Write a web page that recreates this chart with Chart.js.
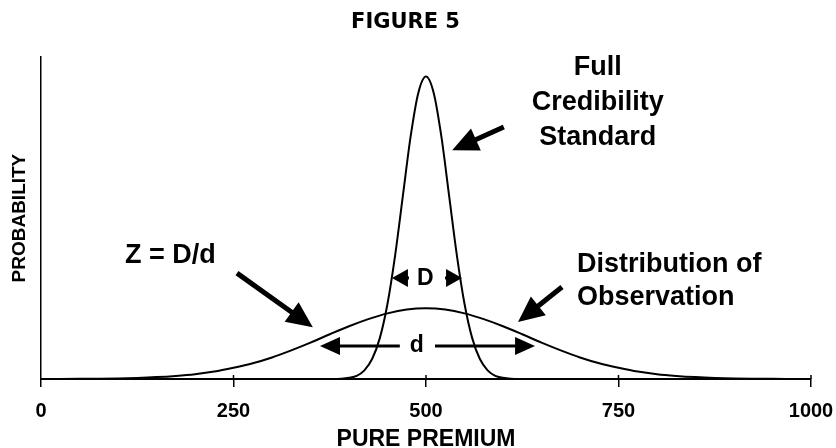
<!DOCTYPE html>
<html>
<head>
<meta charset="utf-8">
<script src="https://cdn.jsdelivr.net/npm/chart.js@4/dist/chart.umd.min.js"></script>
<style>
html,body{margin:0;padding:0;background:#fff;}
#c{display:block;}
</style>
</head>
<body>
<canvas id="c" width="836" height="448"></canvas>
<script>
// ---- data ----
const chartTitle = 'FIGURE 5';
const xTitle = 'PURE PREMIUM';
const yTitle = 'PROBABILITY';
const xTicks = [0, 250, 500, 750, 1000];

// Distribution of Observation (wide curve)
const wideX = [0,25,50,75,100,125,150,175,200,225,250,275,300,325,350,375,400,425,450,475,500,
               525,550,575,600,625,650,675,700,725,750,775,800,825,850,875,900,925,950,975,1000];
const wideY = [0.0,0.02,0.05,0.1,0.19,0.34,0.59,0.97,1.5,2.3,3.5,4.9,6.7,8.9,11.3,13.9,16.4,18.6,20.4,21.6,22.0,
               21.6,20.4,18.6,16.4,13.9,11.3,8.9,6.7,4.9,3.5,2.3,1.5,0.97,0.59,0.34,0.19,0.1,0.05,0.02,0.0];

// Full Credibility Standard (narrow curve)
const narrowX = [370,380,390,400,410,420,430,440,450,460,470,480,490,500,
                 510,520,530,540,550,560,570,580,590,600,610,620,630];
const narrowY = [0,0,0.1,0.4,1.0,2.7,6.2,12.7,23.4,38.6,57.0,75.3,88.9,94.0,
                 88.9,75.3,57.0,38.6,23.4,12.7,6.2,2.7,1.0,0.4,0.1,0,0];

// annotation labels (positions in data units)
const labels = [
  {text:'Full', x:723, y:94.4, align:'center'},
  {text:'Credibility', x:723, y:83.5, align:'center'},
  {text:'Standard', x:723, y:72.7, align:'center'},
  {text:'Z = D/d', x:109, y:36.0, align:'left'},
  {text:'Distribution of', x:696, y:33.2, align:'left'},
  {text:'Observation', x:696, y:23.0, align:'left'}
];
// arrows: tail -> tip, in data units
const bigArrows = [
  {x1:601, y1:78.3, x2:534, y2:71.1},
  {x1:254.5, y1:32.9, x2:353, y2:16.1},
  {x1:676.6, y1:28.6, x2:619.5, y2:17.7}
];
const dMarker = {text:'D', x:499, y:31.4, left:455.8, right:546.8};
const dSmall = {text:'d', x:488, y:10.25, left:362.3, leftEnd:466, rightStart:511.7, right:641.6};

const FONT = "'Liberation Sans', Arial, sans-serif";

function toPix(chart, x, y){
  return [chart.scales.x.getPixelForValue(x), chart.scales.y.getPixelForValue(y)];
}
function arrow(ctx, x1, y1, x2, y2, lw, hl, hw){
  const a = Math.atan2(y2-y1, x2-x1);
  const bx = x2 - hl*Math.cos(a), by = y2 - hl*Math.sin(a);
  ctx.lineWidth = lw;
  ctx.lineCap = 'butt';
  if (Math.hypot(bx-x1, by-y1) > 0.5 && ((bx-x1)*(x2-x1)+(by-y1)*(y2-y1)) > 0) {
    ctx.beginPath(); ctx.moveTo(x1,y1); ctx.lineTo(bx+Math.cos(a), by+Math.sin(a)); ctx.stroke();
  }
  ctx.beginPath();
  ctx.moveTo(x2,y2);
  ctx.lineTo(bx + hw*Math.sin(a), by - hw*Math.cos(a));
  ctx.lineTo(bx - hw*Math.sin(a), by + hw*Math.cos(a));
  ctx.closePath();
  ctx.fill();
}

const annot = {
  id:'annot',
  afterDraw(chart){
    const ctx = chart.ctx;
    ctx.save();
    ctx.fillStyle = '#000'; ctx.strokeStyle = '#000';
    // upward part of x tick marks
    const xs = chart.scales.x, ys = chart.scales.y;
    const by = ys.getPixelForValue(0);
    ctx.lineWidth = 1.5;
    xTicks.forEach(t => { if (t>0){ const px = xs.getPixelForValue(t); ctx.beginPath(); ctx.moveTo(px, by-4); ctx.lineTo(px, by); ctx.stroke(); }});
    // labels
    ctx.font = "bold 27px " + FONT;
    ctx.textBaseline = 'alphabetic';
    labels.forEach(l => {
      const [px, py] = toPix(chart, l.x, l.y);
      ctx.textAlign = l.align;
      ctx.fillText(l.text, px, py);
    });
    // big arrows
    bigArrows.forEach(a => {
      const [x1,y1] = toPix(chart, a.x1, a.y1);
      const [x2,y2] = toPix(chart, a.x2, a.y2);
      arrow(ctx, x1,y1,x2,y2, 5, 26, 12);
    });
    // D marker
    {
      const [cx, cy] = toPix(chart, dMarker.x, dMarker.y);
      const [lx] = toPix(chart, dMarker.left, 0);
      const [rx] = toPix(chart, dMarker.right, 0);
      ctx.font = "bold 23px " + FONT;
      ctx.textAlign = 'center'; ctx.textBaseline = 'middle';
      ctx.fillText(dMarker.text, cx, cy+1);
      arrow(ctx, lx+17, cy, lx, cy, 3, 16, 9);
      arrow(ctx, rx-17, cy, rx, cy, 3, 16, 9);
    }
    // d marker
    {
      const [cx, cy] = toPix(chart, dSmall.x, dSmall.y);
      const [lx] = toPix(chart, dSmall.left, 0);
      const [lex] = toPix(chart, dSmall.leftEnd, 0);
      const [rsx] = toPix(chart, dSmall.rightStart, 0);
      const [rx] = toPix(chart, dSmall.right, 0);
      ctx.font = "bold 23px " + FONT;
      ctx.textAlign = 'center'; ctx.textBaseline = 'middle';
      ctx.fillText(dSmall.text, cx, cy);
      arrow(ctx, lex, cy, lx, cy, 3, 20, 9);
      arrow(ctx, rsx, cy, rx, cy, 3, 20, 9);
    }
    ctx.restore();
  }
};

new Chart(document.getElementById('c'), {
  type:'line',
  data:{
    datasets:[
      {label:'Distribution of Observation', data: wideX.map((x,i)=>({x, y:wideY[i]})),
       borderColor:'#000', borderWidth:2, pointRadius:0, fill:false, cubicInterpolationMode:'monotone'},
      {label:'Full Credibility Standard', data: narrowX.map((x,i)=>({x, y:narrowY[i]})),
       borderColor:'#000', borderWidth:2, pointRadius:0, fill:false, cubicInterpolationMode:'monotone'}
    ]
  },
  options:{
    responsive:false, animation:false, devicePixelRatio:1,
    layout:{padding:{left:0, right:25, top:0, bottom:0}},
    plugins:{
      legend:{display:false}, tooltip:{enabled:false},
      title:{display:true, text:chartTitle, color:'#000',
             font:{family:"'DejaVu Sans', sans-serif", weight:'bold', size:21},
             padding:{top:10, bottom:22}}
    },
    scales:{
      x:{type:'linear', min:0, max:1000,
         afterFit(s){ s.height = 69; s.paddingLeft = 0; s.paddingRight = 0; },
         afterBuildTicks(s){ s.ticks = xTicks.map(v=>({value:v})); },
         grid:{display:true, drawOnChartArea:false, drawTicks:true, tickLength:8, color:'#000', lineWidth:1.5},
         border:{display:true, color:'#000', width:2},
         ticks:{color:'#000', padding:12, maxRotation:0, callback:(v)=>String(v),
                font:{family:FONT, weight:'bold', size:20}},
         title:{display:true, text:xTitle, color:'#000', font:{family:FONT, weight:'bold', size:23}, padding:{top:0, bottom:-5}}
      },
      y:{min:0, max:100,
         afterFit(s){ s.width = 41; },
         grid:{display:false},
         border:{display:true, color:'#000', width:1.5},
         ticks:{display:false},
         title:{display:true, text:yTitle, color:'#000', font:{family:FONT, weight:'bold', size:19}, padding:{top:8, bottom:0}}
      }
    }
  },
  plugins:[annot]
});
</script>
</body>
</html>
